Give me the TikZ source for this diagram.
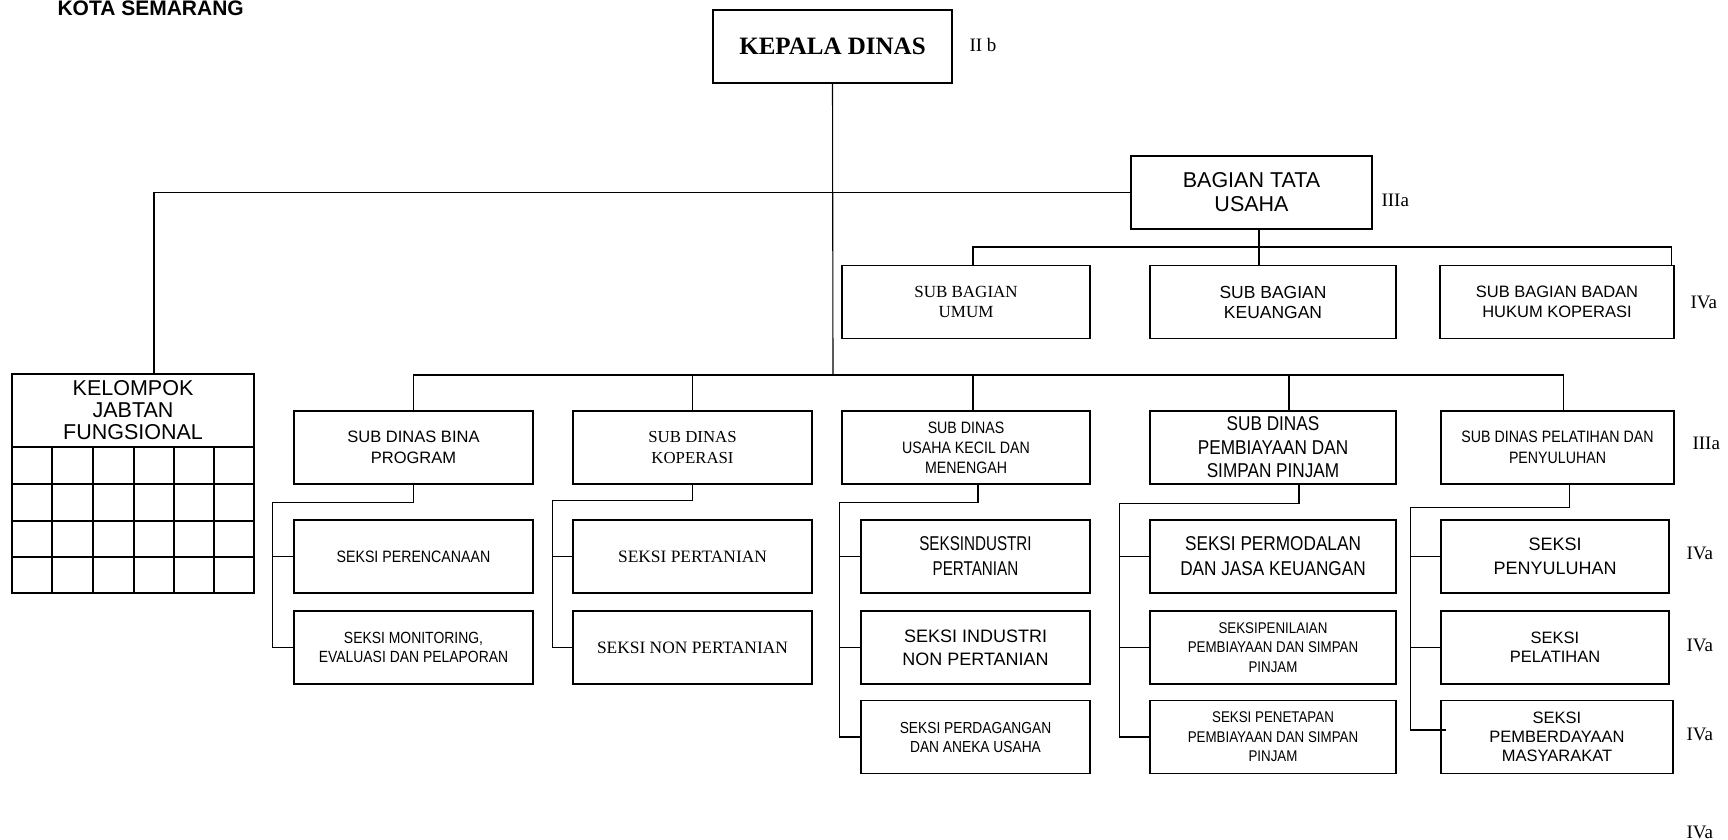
\documentclass[tikz,border=0pt]{standalone}
\usepackage{fontspec}
\setmainfont{Liberation Serif}
\setsansfont{Liberation Sans}
\newfontfamily\narrowsans[FakeStretch=0.86]{Liberation Sans}
\newfontfamily\squeezesans[FakeStretch=0.76]{Liberation Sans}
\usepackage{tikz}
\newcommand{\fsz}[2]{\fontsize{#1}{#2}\selectfont}

\begin{document}
\begin{tikzpicture}
  [x=1pt, y=-1pt, line width=1.1pt,
  every node/.style={shape=rectangle, align=center, inner sep=0pt},
  box/.style={draw, minimum height=73pt},
  grade/.style={anchor=west, font=\fsz{19}{21}}]
  \useasboundingbox (0,0) rectangle (1728,839);

  \node[anchor=base west, font=\sffamily\bfseries\fsz{21}{24}] (kota) at (57,15.5) {KOTA SEMARANG};

  \node[box, minimum width=239pt, font=\bfseries\fsz{25}{28}] (kepala) at (832.5,46.5) {KEPALA DINAS};
  \node[grade] at (969,45) {II b};

  \node[box, minimum width=241pt, font=\sffamily\fsz{21.5}{24}] (tatausaha) at (1251.5,192.5) {BAGIAN TATA\\USAHA};
  \node[grade] at (1381,200) {IIIa};

  \node[box, minimum width=248pt, font=\fsz{17}{20}] (umum) at (966,302) {SUB BAGIAN\\UMUM};
  \node[box, minimum width=246pt, font=\sffamily\fsz{17.5}{20}] (keuangan) at (1273,302) {SUB BAGIAN\\KEUANGAN};
  \node[box, minimum width=234pt, font=\sffamily\fsz{16.5}{20}] (badanhukum) at (1557,302) {SUB BAGIAN BADAN\\HUKUM KOPERASI};
  \node[grade] at (1690,302) {IVa};

  \node[box, minimum width=242pt, font=\sffamily\fsz{21.5}{22}] (kelompok) at (133,410.5) {KELOMPOK\\JABTAN\\FUNGSIONAL};
  \foreach \xa/\xb in {12/52, 52/93, 93/134, 134/174, 174/214, 214/254}
    \foreach \ya/\yb in {447/484, 484/521, 521/557, 557/593}
      \draw (\xa,\ya) rectangle (\xb,\yb);

  \node[box, minimum width=239pt, font=\sffamily\fsz{16.5}{21}] (binaprogram) at (413.5,447.5) {SUB DINAS BINA\\PROGRAM};
  \node[box, minimum width=239pt, font=\fsz{16.8}{21}] (koperasi) at (692.5,447.5) {SUB DINAS\\KOPERASI};
  \node[box, minimum width=248pt, font=\narrowsans\fsz{16.5}{20}] (ukm) at (966,447.5) {SUB DINAS\\USAHA KECIL DAN\\MENENGAH};
  \node[box, minimum width=246pt, font=\narrowsans\fsz{20}{23.5}] (simpanpinjam) at (1273,447.5) {SUB DINAS\\PEMBIAYAAN DAN\\SIMPAN PINJAM};
  \node[box, minimum width=233pt, font=\narrowsans\fsz{16.5}{21}] (penyuluhan) at (1557.5,447.5) {SUB DINAS PELATIHAN DAN\\PENYULUHAN};
  \node[grade] at (1692,443) {IIIa};

  \node[box, minimum width=239pt, font=\narrowsans\fsz{16.5}{20}] (perencanaan) at (413.5,556.5) {SEKSI PERENCANAAN};
  \node[box, minimum width=239pt, font=\narrowsans\fsz{16.2}{19}] (monev) at (413.5,647.5) {SEKSI MONITORING,\\EVALUASI DAN PELAPORAN};

  \node[box, minimum width=239pt, font=\fsz{17.4}{20}] (pertanian) at (692.5,556.5) {SEKSI PERTANIAN};
  \node[box, minimum width=239pt, font=\fsz{17.4}{20}] (nonpertanian) at (692.5,647.5) {SEKSI NON PERTANIAN};

  \node[box, minimum width=229pt, font=\squeezesans\fsz{20}{25}] (industri) at (975.5,556.5) {SEKSINDUSTRI\\PERTANIAN};
  \node[box, minimum width=229pt, font=\sffamily\fsz{18}{23}] (nonindustri) at (975.5,647.5) {SEKSI INDUSTRI\\NON PERTANIAN};
  \node[box, minimum width=229pt, font=\narrowsans\fsz{16}{19}] (perdagangan) at (975.5,737) {SEKSI PERDAGANGAN\\DAN ANEKA USAHA};

  \node[box, minimum width=246pt, font=\narrowsans\fsz{20}{25}] (permodalan) at (1273,556.5) {SEKSI PERMODALAN\\DAN JASA KEUANGAN};
  \node[box, minimum width=246pt, font=\narrowsans\fsz{15.5}{19.5}] (penilaian) at (1273,647.5) {SEKSIPENILAIAN\\PEMBIAYAAN DAN SIMPAN\\PINJAM};
  \node[box, minimum width=246pt, font=\narrowsans\fsz{15.5}{19.5}] (penetapan) at (1273,737) {SEKSI PENETAPAN\\PEMBIAYAAN DAN SIMPAN\\PINJAM};

  \node[box, minimum width=228pt, font=\sffamily\fsz{18}{24}] (seksipenyuluhan) at (1555,556.5) {SEKSI\\PENYULUHAN};
  \node[box, minimum width=228pt, font=\sffamily\fsz{16.5}{19}] (seksipelatihan) at (1555,647.5) {SEKSI\\PELATIHAN};
  \node[box, minimum width=232pt, font=\sffamily\fsz{16.5}{19}] (pemberdayaan) at (1557,737) {SEKSI\\PEMBERDAYAAN\\MASYARAKAT};
  \node[grade] at (1686,553) {IVa};
  \node[grade] at (1686,645) {IVa};
  \node[grade] at (1686,734) {IVa};
  \node[grade] at (1686,832) {IVa};

  \coordinate (bus) at (833,375);
  \coordinate (tubus) at (1259,247);
  \draw (kepala.south) -- (bus);
  \draw (tatausaha.west) -| ([xshift=21pt]kelompok.north);
  \draw ([xshift=7.5pt]tatausaha.south) -- (tubus);
  \draw ([xshift=7pt]umum.north) |- (tubus) -| ([xshift=-3pt]badanhukum.north east);
  \draw (tubus) -- (tubus |- keuangan.north);

  \draw (binaprogram.north) |- ([xshift=6pt]penyuluhan.north |- bus) -- ([xshift=6pt]penyuluhan.north);
  \draw (koperasi.north) -- (koperasi.north |- bus);
  \draw ([xshift=7pt]ukm.north) -- ([xshift=7pt]ukm.north |- bus);
  \draw ([xshift=16pt]simpanpinjam.north) -- ([xshift=16pt]simpanpinjam.north |- bus);
  \draw[line width=2pt] ([xshift=-78pt]ukm.north |- bus) -- ([xshift=7pt]ukm.north |- bus);
  \draw[line width=2pt] ([xshift=-81pt]simpanpinjam.north |- bus) -- ([xshift=16pt]simpanpinjam.north |- bus);

  \draw (binaprogram.south) -- ++(0,18) -| ([xshift=-21pt]monev.west) -- (monev.west);
  \draw ([xshift=-21pt]perencanaan.west) -- (perencanaan.west);

  \draw (koperasi.south) -- ++(0,16) -| ([xshift=-20pt]nonpertanian.west) -- (nonpertanian.west);
  \draw ([xshift=-20pt]pertanian.west) -- (pertanian.west);

  \draw ([xshift=12pt]ukm.south) -- ++(0,18) -| ([xshift=-21pt]perdagangan.west) -- (perdagangan.west);
  \foreach \n in {industri, nonindustri}
    \draw ([xshift=-21pt]\n.west) -- (\n.west);

  \draw ([xshift=26pt]simpanpinjam.south) -- ++(0,19) -| ([xshift=-30pt]penetapan.west) -- (penetapan.west);
  \foreach \n in {permodalan, penilaian}
    \draw ([xshift=-30pt]\n.west) -- (\n.west);

  \draw ([xshift=12pt]penyuluhan.south) -- ++(0,23) -| ([xshift=-30pt,yshift=7pt]pemberdayaan.west) -- ([xshift=6pt,yshift=7pt]pemberdayaan.west);
  \foreach \n in {seksipenyuluhan, seksipelatihan}
    \draw ([xshift=-30pt]\n.west) -- (\n.west);
\end{tikzpicture}
\end{document}
